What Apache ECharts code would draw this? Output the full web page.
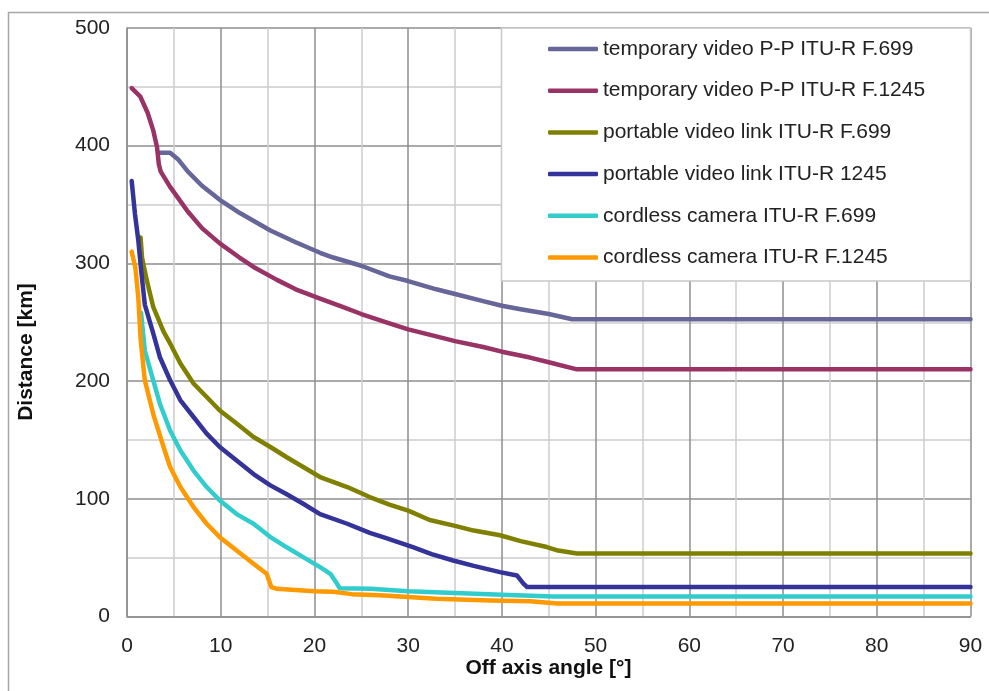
<!DOCTYPE html>
<html>
<head>
<meta charset="utf-8">
<script src="https://cdn.jsdelivr.net/npm/echarts@6/dist/echarts.min.js"></script>
<style>
  html, body { margin: 0; padding: 0; background: #fff; }
  #chart { width: 989px; height: 691px; }
</style>
</head>
<body>
<div id="chart"></div>
<script>
// Off-axis angle [deg] vs. separation distance [km], one [angle, distance] list per service
const seriesNames = [
  'temporary video P-P ITU-R F.699',
  'temporary video P-P ITU-R F.1245',
  'portable video link ITU-R F.699',
  'portable video link ITU-R 1245',
  'cordless camera ITU-R F.699',
  'cordless camera ITU-R F.1245'
];

const tempVideo699 = [
  [3.5, 394], [4.6, 394], [5.5, 388], [6.5, 378], [8, 366], [9.9, 354], [12, 343],
  [15.3, 328], [18, 318], [20.6, 309], [22, 305], [25, 298], [28, 289], [30, 285],
  [33, 278], [35, 274], [38, 268], [40, 264], [42, 261], [45, 257], [47.5, 252.5], [90, 252.5]
];

const tempVideo1245 = [
  [0.5, 449], [1.4, 442], [2.2, 428], [2.8, 413], [3.2, 399], [3.4, 384], [3.6, 378],
  [4.6, 365], [6.4, 345], [8, 330], [9.9, 317], [12, 305], [13.5, 297], [16, 286],
  [18, 278], [20.6, 270], [23, 263], [25, 257], [28, 249], [30, 244], [33, 238],
  [35, 234], [38, 229], [40, 225], [43, 220], [45, 216], [48, 210], [90, 210]
];

const portable699 = [
  [1.45, 322], [1.6, 305], [2.1, 286], [2.8, 263], [3.9, 242], [4.6, 232], [5.7, 215],
  [7.1, 198], [8.5, 186.5], [9.9, 175], [11.7, 164], [13.5, 152.5], [15.3, 144],
  [17, 135.5], [18.8, 127], [20.6, 118.5], [23.5, 110], [25.9, 101.5], [28, 95],
  [30, 90], [32.3, 82], [35, 77], [37, 73], [39.8, 69], [42, 64], [44.8, 59],
  [46, 56], [48, 53.5], [90, 53.5]
];

const portable1245 = [
  [0.5, 370], [0.85, 342], [1.2, 320], [1.5, 295], [1.9, 265], [2.8, 240.5],
  [3.5, 220.5], [4.6, 200.7], [5.7, 183.7], [7.1, 169.5], [8.5, 155.4], [9.9, 144],
  [11.7, 132.6], [13.5, 121], [15.3, 111.4], [17, 104], [18.8, 95.8], [20.6, 87],
  [23.5, 78.8], [25.9, 71], [27.5, 67], [30.5, 59], [32.5, 53], [34.8, 47.6], [37, 43],
  [39.8, 37.7], [41.6, 34.9], [42.3, 28], [42.7, 25], [90, 25]
];

const cordless699 = [
  [1.5, 258], [1.9, 226], [2.8, 200.7], [3.5, 181], [4.6, 158], [5.7, 141], [7.1, 124],
  [8.5, 110], [9.9, 98.6], [11.7, 87], [13.5, 78.8], [15.3, 67.5], [17, 59], [18.8, 50.5],
  [20.6, 42], [21.7, 36.3], [22.4, 28], [22.7, 24], [26, 23.5], [30, 21.5], [35, 20],
  [40, 18.5], [45.5, 17], [90, 17]
];

const cordless1245 = [
  [0.5, 310], [0.9, 296], [1.2, 271.5], [1.46, 235], [1.9, 200.7], [2.8, 172], [3.9, 144],
  [4.6, 127], [5.7, 110], [7.1, 93], [8.5, 78.8], [9.9, 67.4], [11.7, 56], [13.5, 44.8],
  [14.9, 36.3], [15.4, 25], [16, 23.5], [20, 21.5], [22, 21], [24, 19], [27, 18],
  [30, 16.5], [33, 15], [38.8, 13.6], [43, 13], [45.9, 11], [90, 11]
];

const seriesValues = [tempVideo699, tempVideo1245, portable699, portable1245, cordless699, cordless1245];
const seriesColors = ['#666699', '#993366', '#808000', '#333399', '#33cccc', '#ff9900'];

const xTicks = { min: 0, max: 90, step: 10 };
const yTicks = { min: 0, max: 500, step: 100 };

const FONT = '"Liberation Sans", Arial, sans-serif';
const chart = echarts.init(document.getElementById('chart'), null, { renderer: 'canvas' });

const majorLine = { color: '#8e8e8e', width: 1.5 };
const minorLine = { color: '#cdcdcd', width: 1.5 };

chart.setOption({
  backgroundColor: '#ffffff',
  animation: false,
  grid: { left: 127, right: 18.5, top: 28, bottom: 74.5, containLabel: false },
  xAxis: {
    type: 'value',
    min: xTicks.min, max: xTicks.max, interval: xTicks.step,
    axisLine: { show: true, lineStyle: majorLine },
    axisTick: { show: false },
    axisLabel: { color: '#222', fontFamily: FONT, fontSize: 21, margin: 19 },
    splitLine: { show: true, lineStyle: majorLine },
    minorTick: { show: false, splitNumber: 2 },
    minorSplitLine: { show: true, lineStyle: minorLine }
  },
  yAxis: {
    type: 'value',
    min: yTicks.min, max: yTicks.max, interval: yTicks.step,
    axisLine: { show: true, lineStyle: majorLine },
    axisTick: { show: false },
    axisLabel: { color: '#222', fontFamily: FONT, fontSize: 21, margin: 17 },
    splitLine: { show: true, lineStyle: majorLine },
    minorTick: { show: false, splitNumber: 2 },
    minorSplitLine: { show: true, lineStyle: minorLine }
  },
  legend: {
    orient: 'vertical',
    left: 548, top: 38,
    padding: 0,
    icon: 'roundRect',
    itemWidth: 50, itemHeight: 4.5, itemGap: 19.7,
    z: 10,
    textStyle: { color: '#222', fontFamily: FONT, fontSize: 21, lineHeight: 22 },
    data: seriesNames
  },
  graphic: [
    { type: 'rect', z: -10, silent: true,
      shape: { x: 8.5, y: 12.5, width: 1000, height: 700 },
      style: { fill: 'none', stroke: '#a6a6a6', lineWidth: 1.5 } },
    { type: 'rect', z: 5, silent: true,
      shape: { x: 501.5, y: 28, width: 469, height: 253 },
      style: { fill: '#ffffff', stroke: '#c8c8c8', lineWidth: 1.5 } },
    { type: 'text', z: 10, silent: true,
      x: 548.5, y: 668,
      style: { text: 'Off axis angle [°]', fill: '#111', font: 'bold 21px ' + FONT,
               align: 'center', verticalAlign: 'middle' } },
    { type: 'text', z: 10, silent: true,
      x: 26, y: 352, rotation: Math.PI / 2,
      style: { text: 'Distance [km]', fill: '#111', font: 'bold 21px ' + FONT,
               align: 'center', verticalAlign: 'middle' } }
  ],
  series: seriesNames.map((name, i) => ({
    name: name,
    type: 'line',
    data: seriesValues[i],
    symbol: 'none',
    z: 3,
    color: seriesColors[i],
    lineStyle: { color: seriesColors[i], width: 4.5, cap: 'round', join: 'round' }
  }))
});
</script>
</body>
</html>
